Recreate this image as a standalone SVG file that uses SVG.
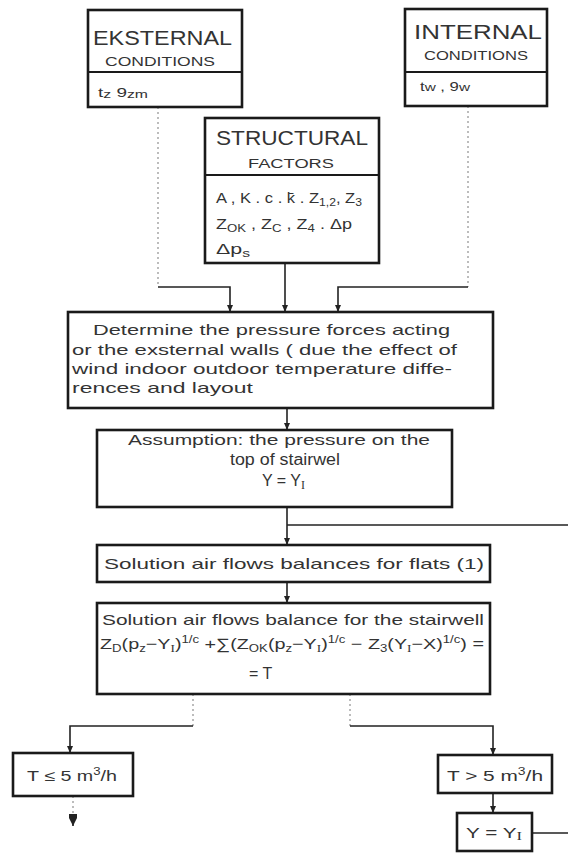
<svg xmlns="http://www.w3.org/2000/svg" width="568" height="854" viewBox="0 0 568 854">
<style>
.box{fill:none;stroke:#1a1a1a;stroke-width:2.6}
.div{stroke:#1a1a1a;stroke-width:2}
.t{font-family:"Liberation Sans","DejaVu Sans",sans-serif;fill:#333;font-size:15px}
.big{font-size:20px}
.sm{font-size:12px}
.m{font-size:16px}
.c{stroke:#222;stroke-width:1.6;fill:none}
.f{stroke:#999;stroke-width:1.3;fill:none;stroke-dasharray:2 3}
.r{font-family:"Liberation Serif",serif}
</style>
<defs>
<marker id="ah" markerUnits="userSpaceOnUse" markerWidth="6" markerHeight="7" refX="3" refY="7" orient="0" viewBox="0 0 6 7">
<path d="M0,0 L6,0 L3,7 z" fill="#222"/>
</marker>
<marker id="ahb" markerUnits="userSpaceOnUse" markerWidth="8" markerHeight="12" refX="4" refY="12" orient="0" viewBox="0 0 8 12">
<path d="M0,0 L8,0 L8,4 L4,12 L0,4 z" fill="#222"/>
</marker>
</defs>
<rect width="568" height="854" fill="#fff"/>

<g id="connectors">
<path class="f" d="M158,107 V287"/>
<path class="c" d="M158,287 H230 V312" marker-end="url(#ah)"/>
<path class="f" d="M468,106 V287"/>
<path class="c" d="M468,287 H338 V312" marker-end="url(#ah)"/>
<path class="c" d="M285,263 V312" marker-end="url(#ah)"/>
<path class="c" d="M287,408 V430" marker-end="url(#ah)"/>
<path class="c" d="M287,507 V545" marker-end="url(#ah)"/>
<path class="c" d="M287,525 H568"/>
<path class="c" d="M532,833 H568"/>
<path class="c" d="M287,582 V603" marker-end="url(#ah)"/>
<path class="f" d="M193,694 V726"/>
<path class="c" d="M193,726 H70 V753" marker-end="url(#ah)"/>
<path class="f" d="M350,694 V726"/>
<path class="c" d="M350,726 H493 V755" marker-end="url(#ah)"/>
<path class="c" d="M493,793 V813" marker-end="url(#ah)"/>
<path class="f" d="M73,796 V814"/>
<path class="c" d="M73,814 V826" marker-end="url(#ahb)"/>
</g>

<g id="external">
<rect class="box" x="88" y="10" width="154" height="97"/>
<line class="div" x1="88" y1="72" x2="242" y2="72"/>
<text class="t big" x="93" y="45" textLength="139" lengthAdjust="spacingAndGlyphs">EKSTERNAL</text>
<text class="t sm" x="105" y="66" textLength="110" lengthAdjust="spacingAndGlyphs">CONDITIONS</text>
<text class="t sm" x="98" y="97" textLength="50" lengthAdjust="spacingAndGlyphs">t<tspan font-size="10" dy="1">z</tspan><tspan dy="-1">  9</tspan><tspan font-size="10" dy="1">zm</tspan></text>
</g>

<g id="internal">
<rect class="box" x="405" y="9" width="142" height="97"/>
<line class="div" x1="405" y1="72" x2="547" y2="72"/>
<text class="t big" x="414" y="39" textLength="128" lengthAdjust="spacingAndGlyphs">INTERNAL</text>
<text class="t sm" x="424" y="60" textLength="104" lengthAdjust="spacingAndGlyphs">CONDITIONS</text>
<text class="t sm" x="420" y="91" textLength="50" lengthAdjust="spacingAndGlyphs">t<tspan font-size="11">w</tspan> ,  9<tspan font-size="11">w</tspan></text>
</g>

<g id="structural">
<rect class="box" x="205" y="118" width="174" height="145"/>
<line class="div" x1="205" y1="175" x2="379" y2="175"/>
<text class="t big" x="216" y="145" textLength="152" lengthAdjust="spacingAndGlyphs">STRUCTURAL</text>
<text class="t sm" x="248" y="168" textLength="86" lengthAdjust="spacingAndGlyphs">FACTORS</text>
<text class="t" x="216" y="203" textLength="146" lengthAdjust="spacingAndGlyphs">A , K . c . k̄ . Z<tspan font-size="11" dy="3">1,2</tspan><tspan dy="-3">, Z</tspan><tspan font-size="11" dy="3">3</tspan></text>
<text class="t" x="216" y="229" textLength="136" lengthAdjust="spacingAndGlyphs">Z<tspan font-size="11" dy="3">OK</tspan><tspan dy="-3"> , Z</tspan><tspan font-size="11" dy="3">C</tspan><tspan dy="-3"> , Z</tspan><tspan font-size="11" dy="3">4</tspan><tspan dy="-3"> . Δp</tspan></text>
<text class="t" x="216" y="254" textLength="34" lengthAdjust="spacingAndGlyphs">Δp<tspan font-size="11" dy="3">s</tspan></text>
</g>

<g id="determine">
<rect class="box" x="68" y="312" width="425" height="96"/>
<text class="t" x="93" y="335" textLength="357" lengthAdjust="spacingAndGlyphs">Determine  the  pressure  forces acting</text>
<text class="t" x="72" y="355" textLength="385" lengthAdjust="spacingAndGlyphs">or  the exsternal  walls ( due the effect of</text>
<text class="t" x="72" y="374" textLength="380" lengthAdjust="spacingAndGlyphs">wind  indoor outdoor temperature  diffe-</text>
<text class="t" x="72" y="393" textLength="181" lengthAdjust="spacingAndGlyphs">rences and  layout</text>
</g>

<g id="assumption">
<rect class="box" x="97" y="430" width="355" height="77"/>
<text class="t" x="128" y="445" textLength="302" lengthAdjust="spacingAndGlyphs">Assumption: the  pressure  on  the</text>
<text class="t m" x="230" y="465" textLength="110" lengthAdjust="spacingAndGlyphs">top  of  stairwel</text>
<text class="t m" x="262" y="486">Y = Y<tspan class="r" font-size="12" dy="3">I</tspan></text>
</g>

<g id="flats">
<rect class="box" x="97" y="545" width="393" height="37"/>
<text class="t" x="104" y="569" textLength="380" lengthAdjust="spacingAndGlyphs">Solution air flows  balances  for  flats  (1)</text>
</g>

<g id="stairwell">
<rect class="box" x="97" y="603" width="393" height="91"/>
<text class="t" x="102" y="625" textLength="382" lengthAdjust="spacingAndGlyphs">Solution air flows balance for the stairwell</text>
<text class="t" x="100" y="649" textLength="384" lengthAdjust="spacingAndGlyphs">Z<tspan font-size="10" dy="3">D</tspan><tspan dy="-3">(p</tspan><tspan font-size="10" dy="3">z</tspan><tspan dy="-3">−Y</tspan><tspan class="r" font-size="10" dy="3">I</tspan><tspan dy="-3">)</tspan><tspan font-size="10" dy="-6">1/c</tspan><tspan dy="6"> +∑(Z</tspan><tspan font-size="10" dy="3">OK</tspan><tspan dy="-3">(p</tspan><tspan font-size="10" dy="3">z</tspan><tspan dy="-3">−Y</tspan><tspan class="r" font-size="10" dy="3">I</tspan><tspan dy="-3">)</tspan><tspan font-size="10" dy="-6">1/c</tspan><tspan dy="6"> − Z</tspan><tspan font-size="10" dy="3">3</tspan><tspan dy="-3">(Y</tspan><tspan class="r" font-size="10" dy="3">I</tspan><tspan dy="-3">−X)</tspan><tspan font-size="10" dy="-6">1/c</tspan><tspan dy="6">) =</tspan></text>
<text class="t m" x="249" y="679">= T</text>
</g>

<g id="t-le-5">
<rect class="box" x="13" y="753" width="120" height="43"/>
<text class="t" x="27" y="781" textLength="90" lengthAdjust="spacingAndGlyphs">T  ≤  5  m<tspan font-size="10" dy="-6">3</tspan><tspan dy="6">/h</tspan></text>
</g>

<g id="t-gt-5">
<rect class="box" x="438" y="755" width="114" height="38"/>
<text class="t" x="447" y="781" textLength="96" lengthAdjust="spacingAndGlyphs">T &gt; 5  m<tspan font-size="10" dy="-6">3</tspan><tspan dy="6">/h</tspan></text>
</g>

<g id="y-eq">
<rect class="box" x="457" y="813" width="75" height="38"/>
<text class="t" x="466" y="838" textLength="56" lengthAdjust="spacingAndGlyphs">Y = Y<tspan class="r" font-size="12" dy="2">I</tspan></text>
</g>
</svg>
